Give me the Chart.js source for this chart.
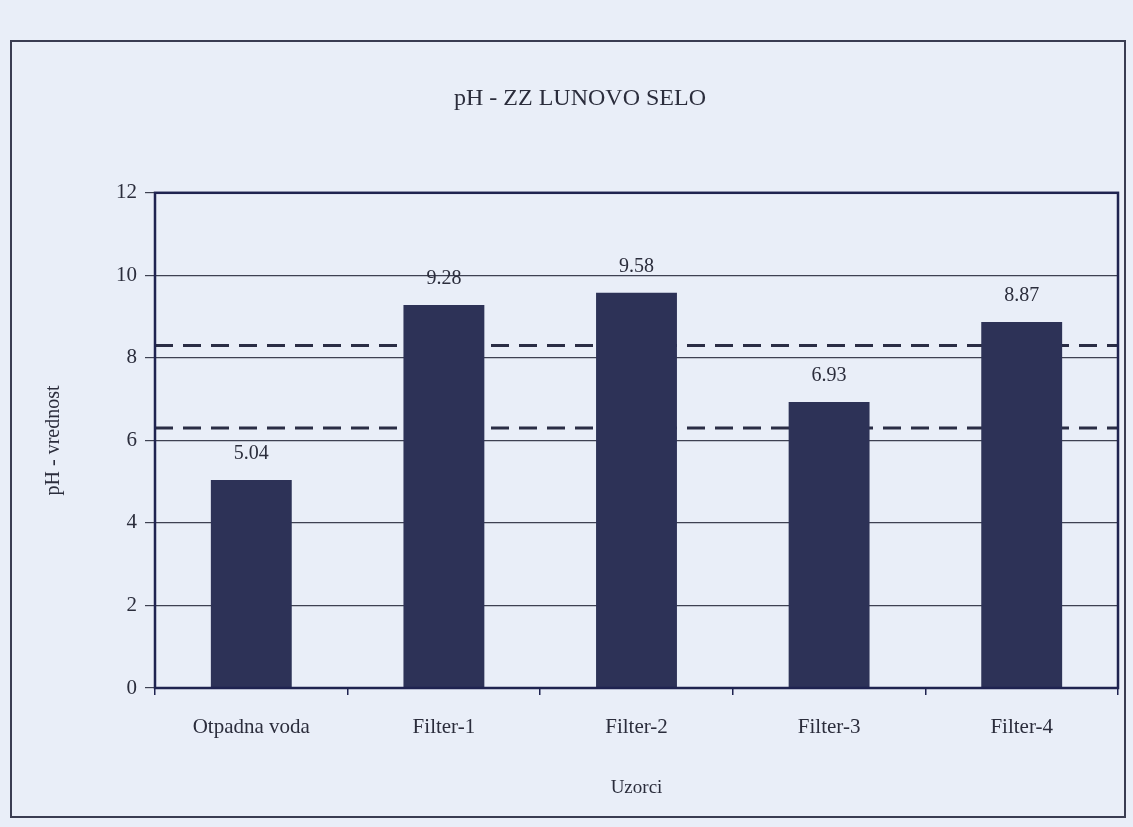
<!DOCTYPE html>
<html>
<head>
<meta charset="utf-8">
<script src="https://cdn.jsdelivr.net/npm/chart.js@4.4.1/dist/chart.umd.min.js"></script>
<style>
  html, body { margin: 0; padding: 0; background: #e9eef8; }
  #wrap { position: relative; width: 1133px; height: 827px; }
  #frame { position: absolute; left: 10px; top: 40px; width: 1116px; height: 778px; border: 2px solid #3a3d52; box-sizing: border-box; }
  canvas { position: absolute; left: 0; top: 0; }
</style>
</head>
<body>
<div id="wrap">
  <div id="frame"></div>
  <canvas id="chart" width="1133" height="827"></canvas>
</div>
<script>
// --- data ---
const categories = ['Otpadna voda', 'Filter-1', 'Filter-2', 'Filter-3', 'Filter-4'];
const phValues = [5.04, 9.28, 9.58, 6.93, 8.87];
const upperLimit = 8.3;
const lowerLimit = 6.3;
const yTicks = [0, 2, 4, 6, 8, 10, 12];

const inkColor = '#2b2d3c';
const barColor = '#2d3257';
const serif = "'Liberation Serif', 'DejaVu Serif', serif";

// value labels over bars
const barLabels = {
    id: 'barLabels',
    afterDatasetsDraw(chart) {
        const ctx = chart.ctx;
        const meta = chart.getDatasetMeta(0);
        ctx.save();
        ctx.fillStyle = inkColor;
        ctx.font = `20px ${serif}`;
        ctx.textAlign = 'center';
        ctx.textBaseline = 'bottom';
        meta.data.forEach((bar, i) => {
            ctx.fillText(phValues[i].toFixed(2), bar.x, bar.y - 16);
        });
        ctx.restore();
    }
};

// box round the plot area
const plotBox = {
    id: 'plotBox',
    afterDraw(chart) {
        const { left, top, right, bottom } = chart.chartArea;
        const ctx = chart.ctx;
        ctx.save();
        ctx.strokeStyle = '#1f2350';
        ctx.lineWidth = 2.5;
        ctx.strokeRect(left, top, right - left, bottom - top);
        ctx.restore();
    }
};

const limitLine = (value) => ({
    type: 'line',
    xAxisID: 'x2',
    data: [{ x: 0, y: value }, { x: 1, y: value }],
    borderColor: '#2a2d45',
    borderWidth: 3,
    borderDash: [18, 10],
    pointRadius: 0,
    fill: false,
    order: 1
});

new Chart(document.getElementById('chart'), {
    type: 'bar',
    data: {
        labels: categories,
        datasets: [
            {
                data: phValues,
                backgroundColor: barColor,
                borderWidth: 0,
                grouped: false,
                barPercentage: 0.42,
                categoryPercentage: 1,
                order: 0
            },
            limitLine(upperLimit),
            limitLine(lowerLimit)
        ]
    },
    options: {
        responsive: false,
        animation: false,
        layout: { padding: { left: 42, right: 15, top: 0, bottom: 28 } },
        plugins: {
            legend: { display: false },
            tooltip: { enabled: false },
            title: {
                display: true,
                text: 'pH - ZZ LUNOVO SELO',
                color: inkColor,
                font: { family: serif, size: 24, weight: 'normal' },
                padding: { top: 84, bottom: 80 }
            }
        },
        scales: {
            x: {
                offset: true,
                grid: { display: true, offset: true, drawOnChartArea: false, tickLength: 7, color: '#1f2350', lineWidth: 1.5 },
                border: { display: false },
                ticks: { color: inkColor, font: { family: serif, size: 21 }, padding: 20 },
                title: { display: true, text: 'Uzorci', color: inkColor, font: { family: serif, size: 19 }, padding: 0 },
                afterFit(scale) { scale.height = 111; }
            },
            x2: { type: 'linear', min: 0, max: 1, offset: false, display: false },
            y: {
                min: 0,
                max: 12,
                afterBuildTicks(scale) { scale.ticks = yTicks.map(v => ({ value: v })); },
                grid: { color: '#3e4152', lineWidth: 1.2, tickLength: 10 },
                border: { display: false },
                ticks: { color: inkColor, font: { family: serif, size: 21 }, padding: 8 },
                title: { display: true, text: 'pH - vrednost', color: inkColor, font: { family: serif, size: 20 }, padding: 0 },
                afterFit(scale) { scale.width = 113; }
            }
        }
    },
    plugins: [barLabels, plotBox]
});
</script>
</body>
</html>
